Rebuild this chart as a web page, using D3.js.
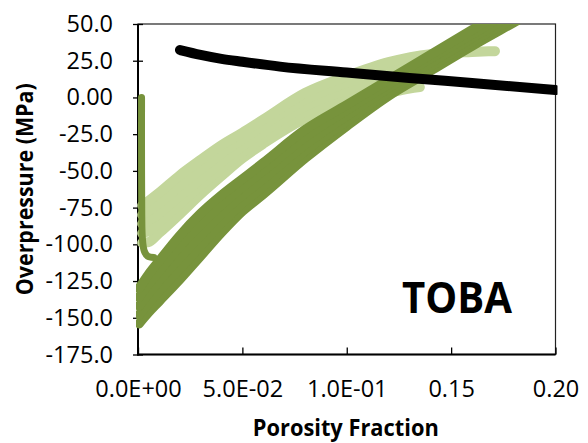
<!DOCTYPE html>
<html><head><meta charset="utf-8">
<script src="https://cdn.jsdelivr.net/npm/d3@7"></script>
<style>
body{margin:0;background:#fff}
svg{display:block}
text{font-family:"Open Sans","Noto Sans",sans-serif;fill:#000}
</style>
</head><body>
<svg id="chart" width="588" height="443"></svg>
<script>
// ---------- data ----------
const xTickValues = [0, 0.05, 0.10, 0.15, 0.20];
const xTickLabels = ["0.0E+00", "5.0E-02", "1.0E-01", "0.15", "0.20"];
const yTickValues = [50, 25, 0, -25, -50, -75, -100, -125, -150, -175];
const yTickLabels = ["50.0", "25.0", "0.00", "-25.0", "-50.0", "-75.0", "-100.0", "-125.0", "-150.0", "-175.0"];

// dark green runs (porosity grid shared)
const darkPorosity = [0.0005, 0.005, 0.01, 0.02, 0.03, 0.04, 0.05, 0.06, 0.08, 0.10, 0.12, 0.14, 0.16, 0.18, 0.20];
const dark1 = [-154, -146.5, -139, -124, -108, -92, -77.5, -66, -41.5, -19.5, 1, 18, 35, 51, 67];
const dark2 = [-148, -140, -132, -116.5, -101, -85.5, -72, -60.5, -36.5, -16, 3.5, 21, 38, 54, 70];
const dark3 = [-142, -133.5, -125, -109, -94, -79, -66.5, -55.5, -32, -12.5, 6.5, 23.5, 40.5, 57, 73];
const dark4 = [-136, -127, -118.5, -101.5, -86.5, -73, -61, -50, -27, -8.5, 9, 26.5, 43, 60, 76];
const dark5 = [-130, -120.5, -111.5, -94, -79, -66.5, -55.5, -44.5, -22, -5, 12, 29, 46, 63, 79];

// dark green near-zero-porosity run with hook  [porosity, overpressure]
const darkHook = [[0.0017, 0], [0.0017, -45], [0.0018, -80], [0.0021, -96], [0.0030, -104.5], [0.0046, -108], [0.0076, -109]];

// light green runs [porosity, overpressure]
const light1 = [[0.002, -73.5], [0.005, -70.5], [0.01, -65], [0.02, -53], [0.03, -42.5], [0.04, -32.5], [0.05, -24], [0.06, -15], [0.08, 3], [0.10, 14.5], [0.12, 24], [0.14, 29.5], [0.16, 31], [0.171, 31.5]];
const light2 = [[0.002, -80], [0.005, -77], [0.01, -72], [0.02, -60], [0.03, -49], [0.04, -38], [0.05, -28.5], [0.06, -19], [0.08, -1.5], [0.10, 10], [0.12, 18.5], [0.14, 26], [0.16, 36]];
const light3 = [[0.002, -86], [0.005, -84], [0.01, -79], [0.02, -67], [0.03, -55.5], [0.04, -44], [0.05, -33], [0.06, -23.5], [0.08, -6], [0.10, 5], [0.12, 13.5], [0.14, 20]];
const light4 = [[0.002, -92.5], [0.005, -91], [0.01, -85], [0.02, -72.5], [0.03, -60], [0.04, -48], [0.05, -37], [0.06, -27.5], [0.08, -10], [0.10, 0.5], [0.12, 8.5], [0.13, 11.5]];
const light5 = [[0.002, -99], [0.005, -98.5], [0.01, -92.5], [0.02, -79.5], [0.03, -66], [0.04, -53.5], [0.05, -41.5], [0.06, -31.5], [0.08, -14.5], [0.10, -4], [0.12, 3], [0.13, 6], [0.135, 7]];

// black line
const blackPorosity = [0.0201, 0.03, 0.04, 0.05, 0.068, 0.10, 0.13, 0.16, 0.20];
const blackPressure = [32.3, 29, 26.3, 24.3, 21, 17, 13.3, 9.8, 5];

// ---------- layout ----------
const plot = {left: 138, right: 555.5, top: 24, bottom: 354.5};
const DARK = "#77933C", LIGHT = "#C3D69B";

const svg = d3.select("#chart");
const x = d3.scaleLinear().domain([0, 0.2]).range([plot.left, plot.right]);
const y = d3.scaleLinear().domain([-175, 50]).range([plot.bottom, plot.top]);

// plot border (top/right thin)
svg.append("rect")
  .attr("x", plot.left).attr("y", plot.top)
  .attr("width", plot.right - plot.left).attr("height", plot.bottom - plot.top)
  .attr("fill", "none").attr("stroke", "#222").attr("stroke-width", 1.2);

// y axis
const yAxis = d3.axisLeft(y).tickValues(yTickValues)
  .tickFormat((d, i) => yTickLabels[i]).tickSize(5).tickPadding(20);
const gy = svg.append("g").attr("transform", `translate(${plot.left},0)`).call(yAxis);
gy.select(".domain").remove();
gy.selectAll(".tick line").attr("x1", 5).attr("stroke", "#000").attr("stroke-width", 1.3);
gy.selectAll(".tick text").style("font-size", "23.5px").attr("fill", "#000");

// x axis
const xAxis = d3.axisBottom(x).tickValues(xTickValues)
  .tickFormat((d, i) => xTickLabels[i]).tickSize(-7).tickPadding(26);
const gx = svg.append("g").attr("transform", `translate(0,${plot.bottom})`).call(xAxis);
gx.select(".domain").remove();
gx.selectAll(".tick line").attr("stroke", "#000").attr("stroke-width", 1.3);
gx.selectAll(".tick text").style("font-size", "23.5px").attr("fill", "#000");

// main axis lines
svg.append("line").attr("x1", plot.left).attr("x2", plot.left)
  .attr("y1", plot.top).attr("y2", plot.bottom + 1).attr("stroke", "#000").attr("stroke-width", 2);
svg.append("line").attr("x1", plot.left - 1).attr("x2", plot.right)
  .attr("y1", plot.bottom).attr("y2", plot.bottom).attr("stroke", "#000").attr("stroke-width", 2);

// clip for series
svg.append("clipPath").attr("id", "clip").append("rect")
  .attr("x", plot.left - 2).attr("y", plot.top)
  .attr("width", plot.right - plot.left + 4).attr("height", plot.bottom - plot.top + 2);

const bandLine = d3.line().x(d => x(d[0])).y(d => y(d[1])).curve(d3.curveMonotoneX);
const hookLine = d3.line().x(d => x(d[0])).y(d => y(d[1])).curve(d3.curveCatmullRom.alpha(0.5));
const zip = (xs, ys) => xs.map((v, i) => [v, ys[i]]);
const series = svg.append("g").attr("clip-path", "url(#clip)");

function draw(data, gen, color, width) {
  series.append("path").datum(data).attr("d", gen)
    .attr("fill", "none").attr("stroke", color).attr("stroke-width", width)
    .attr("stroke-linecap", "round").attr("stroke-linejoin", "round");
}

[light5, light4, light3, light2, light1].forEach(s => draw(s, bandLine, LIGHT, 10));
[dark1, dark2, dark3, dark4, dark5].forEach(s => draw(zip(darkPorosity, s), bandLine, DARK, 9.5));
draw(darkHook, hookLine, DARK, 7);
draw(zip(blackPorosity, blackPressure), bandLine, "#000", 10);

// titles
svg.append("text").attr("x", (plot.left + plot.right) / 2 - 1).attr("y", 436)
  .attr("text-anchor", "middle").style("font-size", "23px").style("font-weight", "bold")
  .attr("textLength", 186).attr("lengthAdjust", "spacingAndGlyphs")
  .text("Porosity Fraction");

svg.append("text").attr("transform", `translate(33,${(plot.top + plot.bottom) / 2}) rotate(-90)`)
  .attr("text-anchor", "middle").style("font-size", "23px").style("font-weight", "bold")
  .attr("textLength", 212).attr("lengthAdjust", "spacingAndGlyphs")
  .text("Overpressure (MPa)");

svg.append("text").attr("x", 402).attr("y", 313)
  .style("font-size", "43px").style("font-weight", "bold")
  .attr("textLength", 110).attr("lengthAdjust", "spacingAndGlyphs")
  .text("TOBA");
</script>
</body></html>
